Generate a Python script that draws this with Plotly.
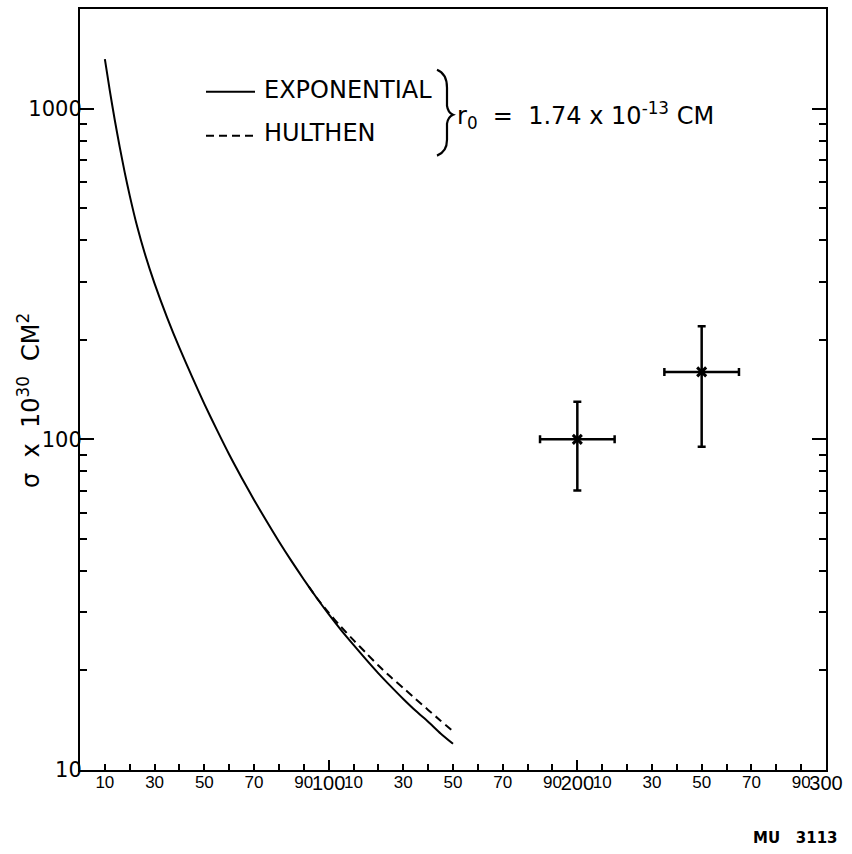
import plotly.graph_objects as go

# Cross section vs energy: theoretical curves and two measurements
energy_exp = [10, 12, 14, 16, 18, 20, 23, 26, 30, 35, 40, 45, 50, 55, 60, 65, 70,
              75, 80, 85, 90, 95, 100, 105, 110, 115, 120, 125, 130, 135, 140, 145, 150]
sigma_exp = [1413, 1132, 923, 764, 641, 546, 440, 366, 296, 234, 189, 155, 128,
             107, 90, 76.6, 65.6, 56.6, 49.1, 42.9, 37.7, 33.3, 29.6, 26.5, 23.9,
             21.6, 19.6, 17.9, 16.4, 15.1, 14.0, 12.9, 12.0]

energy_hul = [92, 95, 100, 105, 110, 115, 120, 125, 130, 135, 140, 145, 150]
sigma_hul = [35.9, 33.3, 29.9, 27.1, 24.7, 22.6, 20.7, 19.1, 17.7, 16.4, 15.2, 14.1, 13.1]

energy_meas = [200, 250]
sigma_meas = [100, 160]
energy_err = [15, 15]
sigma_err_plus = [30, 60]
sigma_err_minus = [30, 65]

x_major_ticks = [100, 200, 300]
x_minor_ticks = [v for v in range(10, 300, 10) if v % 100 != 0]
x_label_ticks = list(range(10, 300, 20))
x_label_text = [str(v % 100) for v in x_label_ticks]
y_major_ticks = [10, 100, 1000]
y_minor_ticks = [20, 30, 40, 50, 60, 70, 80, 90, 200, 300, 400, 500, 600, 700, 800, 900]

FONT = "DejaVu Sans"
TICKFONT = "Liberation Sans"
W, H = 852, 854
L, R, T, B = 80, 826, 7, 770


def px(x):
    return (x - L) / (R - L)


def py(y):
    return (B - y) / (B - T)


fig = go.Figure()
fig.add_trace(go.Scatter(
    x=energy_exp, y=sigma_exp, mode="lines", name="EXPONENTIAL",
    line=dict(color="black", width=2, shape="spline", smoothing=0.6),
))
fig.add_trace(go.Scatter(
    x=energy_hul, y=sigma_hul, mode="lines", name="HULTHEN",
    line=dict(color="black", width=2, dash="8px,5px", shape="spline", smoothing=0.6),
))
fig.add_trace(go.Scatter(
    x=energy_meas, y=sigma_meas, mode="markers", xaxis="x2",
    marker=dict(symbol="x-thin", size=9, line=dict(color="black", width=3), color="black"),
    error_x=dict(type="data", array=energy_err, color="black", thickness=2.5, width=4),
    error_y=dict(type="data", array=sigma_err_plus, arrayminus=sigma_err_minus,
                 color="black", thickness=2.5, width=4),
))

# legend samples and bracket
shapes = [
    dict(type="line", xref="paper", yref="paper", x0=px(206), x1=px(255), y0=py(90), y1=py(90),
         line=dict(color="black", width=2)),
    dict(type="line", xref="paper", yref="paper", x0=px(206), x1=px(255), y0=py(134), y1=py(134),
         line=dict(color="black", width=2, dash="8px,5px")),
]
brace_pts = [("M", 437, 68), ("Q", 447, 72, 447, 86), ("L", 447, 104), ("Q", 448, 111, 453, 113),
             ("Q", 448, 115, 447, 122), ("L", 447, 138), ("Q", 447, 150, 437, 154)]
path = ""
for seg in brace_pts:
    cmd, *c = seg
    pts = [f"{px(c[i])},{py(c[i + 1])}" for i in range(0, len(c), 2)]
    path += cmd + " ".join(pts) + " "
shapes.append(dict(type="path", xref="paper", yref="paper", path=path.strip(),
                   line=dict(color="black", width=2.2)))

annotations = [
    dict(text="EXPONENTIAL", x=px(262), y=py(88), xref="paper", yref="paper",
         xanchor="left", yanchor="middle", showarrow=False, font=dict(size=24, family=FONT, color="black")),
    dict(text="HULTHEN", x=px(262), y=py(131), xref="paper", yref="paper",
         xanchor="left", yanchor="middle", showarrow=False, font=dict(size=24, family=FONT, color="black")),
    dict(text="r<sub>0</sub>  =  1.74 x 10<sup>-13</sup> CM", x=px(455), y=py(114), xref="paper", yref="paper",
         xanchor="left", yanchor="middle", showarrow=False, font=dict(size=24, family=FONT, color="black")),
    dict(text="σ  x  10<sup>30</sup>  CM<sup>2</sup>", x=px(29), y=py(400), xref="paper", yref="paper",
         xanchor="center", yanchor="middle", textangle=-90, showarrow=False,
         font=dict(size=24, family=FONT, color="black")),
    dict(text="<b>MU   3113</b>", x=px(840), y=py(838), xref="paper", yref="paper",
         xanchor="right", yanchor="middle", showarrow=False, font=dict(size=15, family=FONT, color="black")),
]

fig.update_layout(
    width=W, height=H,
    margin=dict(l=L, r=W - R, t=T, b=H - B),
    paper_bgcolor="white", plot_bgcolor="white",
    showlegend=False,
    font=dict(family=FONT, color="black"),
    shapes=shapes, annotations=annotations,
    xaxis=dict(
        range=[0, 300], showline=True, linecolor="black", linewidth=2, mirror=True,
        showgrid=False, zeroline=False,
        tickmode="array", tickvals=x_major_ticks, ticktext=[str(v) for v in x_major_ticks],
        ticks="inside", ticklen=10, tickwidth=2, tickcolor="black", tickangle=0,
        ticklabelstandoff=-6, tickfont=dict(size=20, family=TICKFONT, color="black"),
        minor=dict(tickmode="array", tickvals=x_minor_ticks, ticks="inside", ticklen=6,
                   tickwidth=1.5, tickcolor="black", showgrid=False),
    ),
    xaxis2=dict(
        range=[0, 300], overlaying="x", matches="x", anchor="y", side="bottom",
        showline=False, showgrid=False, zeroline=False,
        tickmode="array", tickvals=x_label_ticks, ticktext=x_label_text,
        ticks="", tickangle=0, tickfont=dict(size=17, family=TICKFONT, color="black"),
    ),
    yaxis=dict(
        type="log", range=[1, 1 + (B - T) / 331.5],
        showline=True, linecolor="black", linewidth=2, mirror="ticks",
        showgrid=False, zeroline=False,
        tickmode="array", tickvals=y_major_ticks, ticktext=[str(v) for v in y_major_ticks],
        ticks="inside", ticklen=14, tickwidth=2, tickcolor="black", ticklabelstandoff=-8,
        tickfont=dict(size=21, family=FONT, color="black"),
        minor=dict(tickmode="array", tickvals=y_minor_ticks, ticks="inside", ticklen=7,
                   tickwidth=1.5, tickcolor="black", showgrid=False),
    ),
)

fig.write_html("out.html")
